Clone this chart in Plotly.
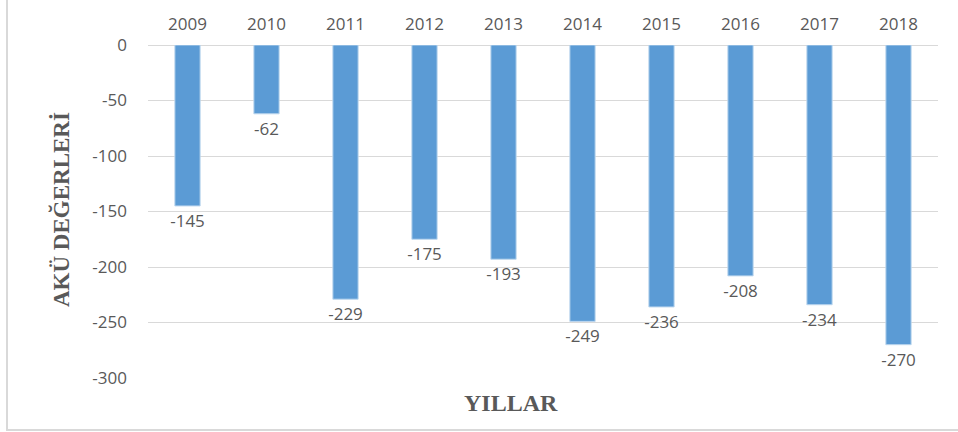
import plotly.graph_objects as go

years = ["2009", "2010", "2011", "2012", "2013", "2014", "2015", "2016", "2017", "2018"]
values = [-145, -62, -229, -175, -193, -249, -236, -208, -234, -270]
y_ticks = [0, -50, -100, -150, -200, -250, -300]
y_tick_labels = ["0", "-50", "-100", "-150", "-200", "-250", "-300"]

gray = "#595959"

fig = go.Figure(go.Bar(
    x=years, y=values,
    marker=dict(color="#5b9bd5", line=dict(color="#bdd7ee", width=1)),
    width=0.32,
    text=[str(v) for v in values],
    textposition="outside",
    constraintext="none",
    textfont=dict(family="Open Sans", size=17, color=gray),
    cliponaxis=False,
))

L, R, T, B = 148, 20, 45, 54
W, H = 958, 432
pw, ph = W - L - R, H - T - B

fig.update_layout(
    width=W, height=H,
    margin=dict(l=L, r=R, t=T, b=B, autoexpand=False),
    plot_bgcolor="white", paper_bgcolor="white",
    showlegend=False,
    xaxis=dict(side="top", type="category", showgrid=False, showline=False, ticks="",
               automargin=False,
               tickfont=dict(family="Open Sans", size=17, color=gray), ticklabelstandoff=11),
    yaxis=dict(range=[-300, 0], tickvals=y_ticks, ticktext=y_tick_labels,
               showgrid=True, gridcolor="#d9d9d9",
               gridwidth=1, zeroline=True, zerolinecolor="#d9d9d9", zerolinewidth=1,
               showline=False, ticks="", automargin=False,
               tickfont=dict(family="Open Sans", size=17, color=gray), ticklabelstandoff=20),
    annotations=[
        dict(text="<b>AKÜ DEĞERLERİ</b>", xref="paper", yref="paper",
             x=(61 - L) / pw, y=(H - B - 210) / ph, textangle=-90, showarrow=False,
             font=dict(family="Liberation Serif", size=23, color=gray),
             xanchor="center", yanchor="middle"),
        dict(text="<b>YILLAR</b>", xref="paper", yref="paper",
             x=(511 - L) / pw, y=(H - B - 403) / ph, showarrow=False,
             font=dict(family="Liberation Serif", size=24, color=gray),
             xanchor="center", yanchor="middle"),
    ],
    shapes=[
        dict(type="line", xref="paper", yref="paper",
             x0=(7 - L) / pw, x1=(7 - L) / pw, y0=(H - B - 431) / ph, y1=(H - B + 5) / ph,
             line=dict(color="#d9d9d9", width=2)),
        dict(type="line", xref="paper", yref="paper",
             x0=(7 - L) / pw, x1=(960 - L) / pw, y0=(H - B - 430) / ph, y1=(H - B - 430) / ph,
             line=dict(color="#d9d9d9", width=2)),
    ],
)

fig.write_html("out.html", config={"displayModeBar": False},
               post_script="document.body.style.margin='0';")
